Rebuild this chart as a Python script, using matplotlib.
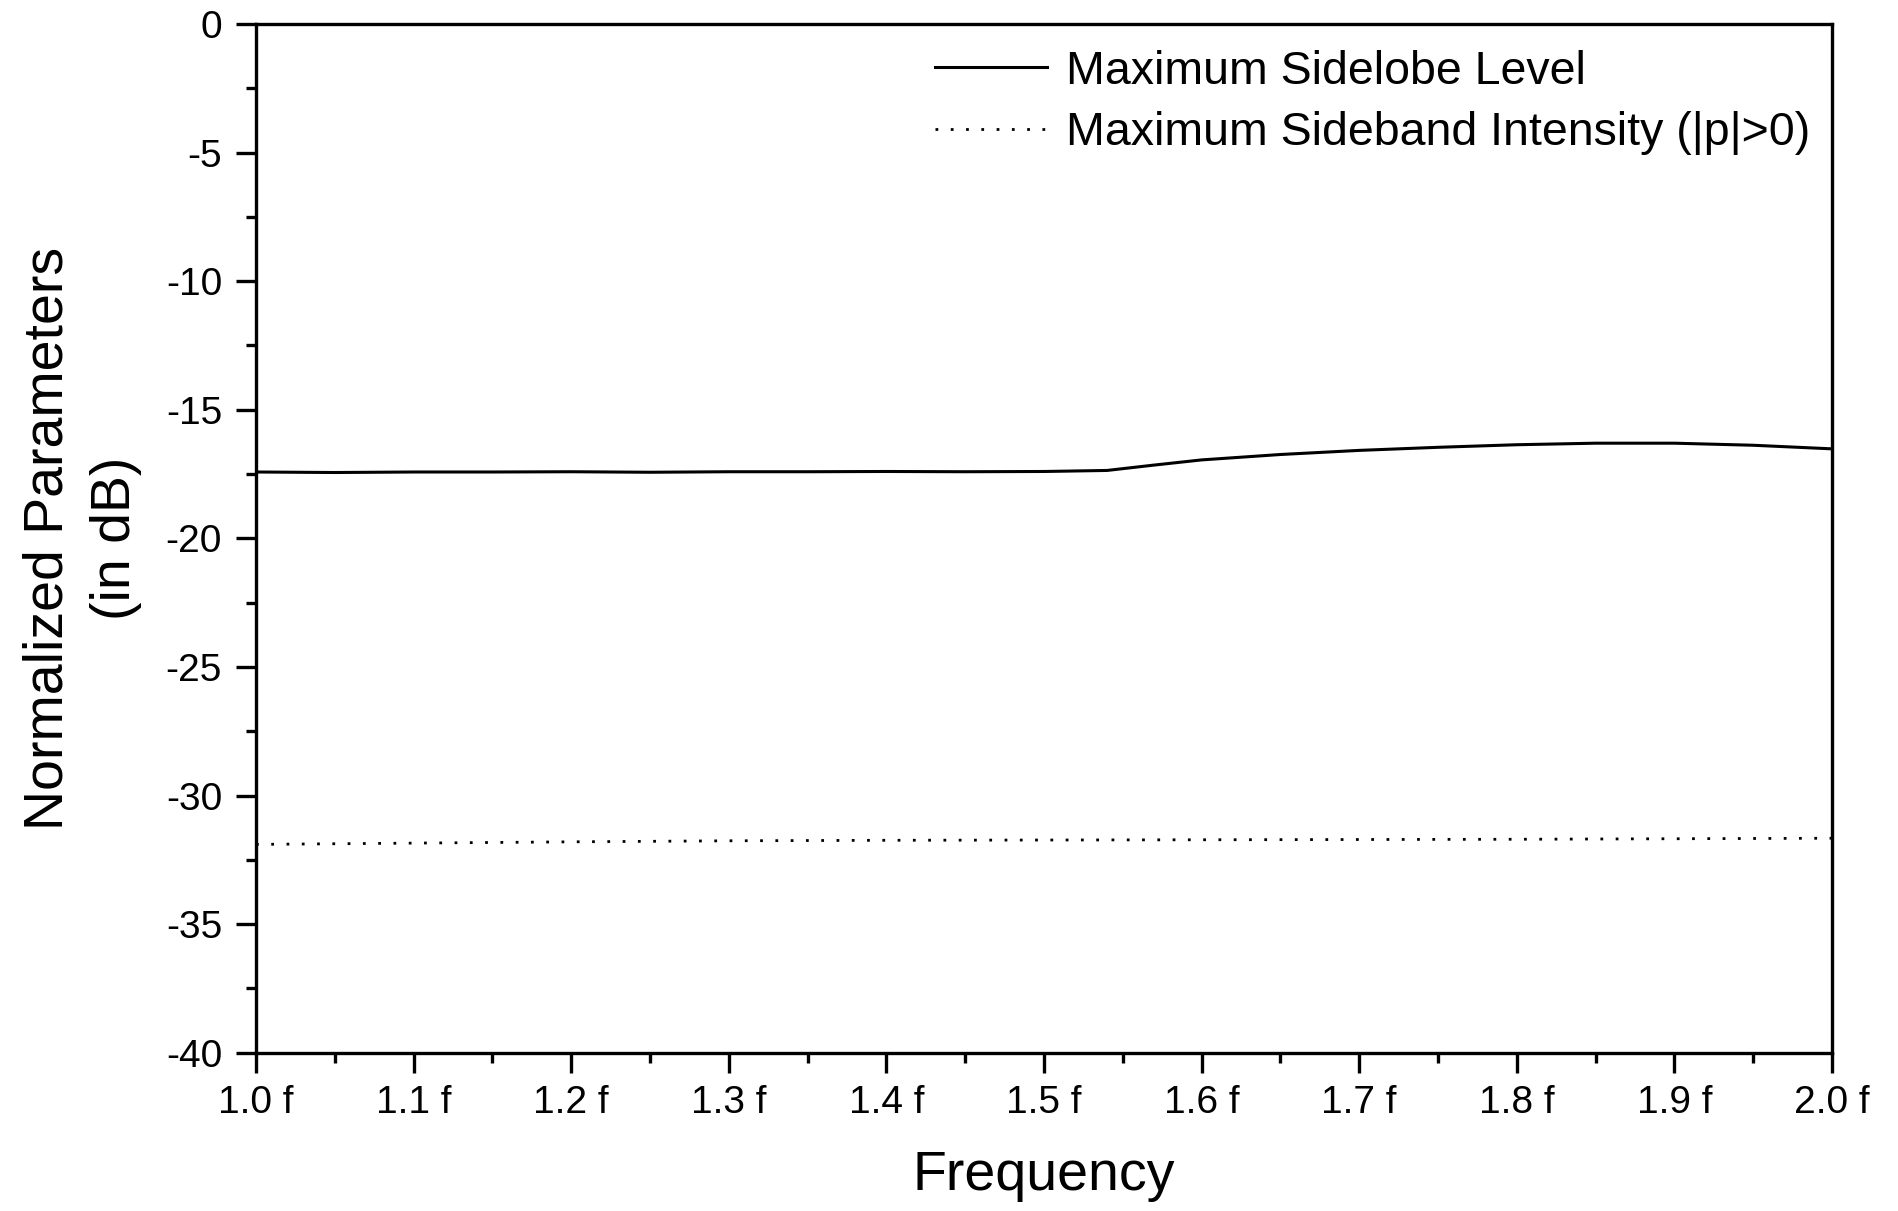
import matplotlib
matplotlib.use("Agg")
import matplotlib.pyplot as plt
from matplotlib.ticker import MultipleLocator

freq_sll = [1.00, 1.05, 1.10, 1.15, 1.20, 1.25, 1.30, 1.35, 1.40, 1.45, 1.50, 1.54,
            1.57, 1.60, 1.65, 1.70, 1.75, 1.80, 1.85, 1.90, 1.95, 2.00]
sll = [-17.42, -17.44, -17.42, -17.42, -17.41, -17.43, -17.41, -17.41, -17.40, -17.41,
       -17.40, -17.36, -17.15, -16.95, -16.74, -16.58, -16.46, -16.36, -16.30, -16.30,
       -16.38, -16.52]

freq_sbi = [1.00, 1.10, 1.20, 1.30, 1.40, 1.50, 1.60, 1.70, 1.80, 1.90, 2.00]
sbi = [-31.90, -31.85, -31.80, -31.76, -31.74, -31.73, -31.72, -31.71, -31.70, -31.68, -31.66]

xticks = [1.0, 1.1, 1.2, 1.3, 1.4, 1.5, 1.6, 1.7, 1.8, 1.9, 2.0]
xticklabels = ["1.0 f", "1.1 f", "1.2 f", "1.3 f", "1.4 f", "1.5 f",
               "1.6 f", "1.7 f", "1.8 f", "1.9 f", "2.0 f"]

plt.rcParams['font.family'] = ['Liberation Sans', 'DejaVu Sans']
plt.rcParams['axes.unicode_minus'] = False

fig = plt.figure(figsize=(18.99, 12.11), dpi=100)
ax = fig.add_axes([0.1348, 0.1307, 0.8299, 0.8495])

ax.plot(freq_sll, sll, color='k', lw=2.2, label='Maximum Sidelobe Level')
ax.plot(freq_sbi, sbi, color='k', lw=2.0, linestyle=(0, (1, 4.5)),
        label='Maximum Sideband Intensity (|p|>0)')

ax.set_xlim(1.0, 2.0)
ax.set_ylim(-40, 0)
ax.set_xticks(xticks)
ax.set_xticklabels(xticklabels)
ax.xaxis.set_minor_locator(MultipleLocator(0.05))
ax.yaxis.set_major_locator(MultipleLocator(5))
ax.yaxis.set_minor_locator(MultipleLocator(2.5))

for s in ax.spines.values():
    s.set_linewidth(2.4)
ax.tick_params(which='both', direction='out', width=2.4, top=False, right=False)
ax.tick_params(which='major', length=14.4, labelsize=28)
ax.tick_params(axis='y', which='major', pad=10)
ax.tick_params(axis='x', which='major', pad=9)
ax.tick_params(which='minor', length=7.2)

ax.set_xlabel('Frequency', fontsize=40, labelpad=21)
ax.set_ylabel('Normalized Parameters\n(in dB)', fontsize=40, labelpad=17,
              linespacing=1.4)

ax.legend(loc='upper left', bbox_to_anchor=(0.431, 0.975), frameon=False,
          fontsize=33.5, handlelength=2.4, handletextpad=0.42, labelspacing=0.38,
          borderpad=0, borderaxespad=0)

fig.savefig('out.png', dpi=100)
